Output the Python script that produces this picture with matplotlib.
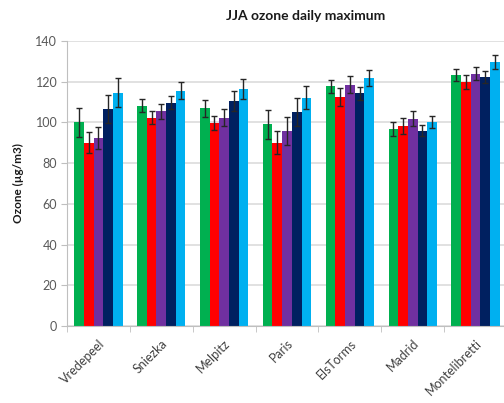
import matplotlib.pyplot as plt
import numpy as np

plt.rcParams['font.family'] = ['Lato', 'DejaVu Sans']

sites = ['Vredepeel', 'Sniezka', 'Melpitz', 'Paris', 'ElsTorms', 'Madrid', 'Montelibretti']

# five series per site, with +/- error
s1 = [100.0, 108.1, 107.0, 99.1, 117.8, 96.6, 123.3]
s1_err = [7.0, 3.2, 4.2, 7.0, 3.2, 3.5, 2.8]
s2 = [90.1, 102.4, 99.8, 90.1, 112.5, 98.3, 120.0]
s2_err = [5.0, 3.3, 3.3, 5.8, 4.6, 3.9, 3.5]
s3 = [92.5, 105.5, 102.4, 95.8, 118.6, 101.9, 124.0]
s3_err = [5.5, 3.7, 4.3, 6.7, 4.3, 3.7, 3.1]
s4 = [106.6, 109.7, 110.6, 105.2, 114.3, 96.0, 122.4]
s4_err = [6.7, 3.2, 4.9, 7.0, 3.1, 2.5, 3.0]
s5 = [114.6, 115.6, 116.3, 112.2, 121.9, 100.2, 129.6]
s5_err = [7.0, 4.2, 5.0, 5.7, 4.0, 3.0, 3.3]

series = [s1, s2, s3, s4, s5]
errors = [s1_err, s2_err, s3_err, s4_err, s5_err]
colors = ['#00b050', '#ff0000', '#7030a0', '#002060', '#00b0f0']

fig = plt.figure(figsize=(5.04, 4.03), dpi=100)
ax = fig.add_axes([67 / 504, 77 / 403, 440 / 504, 285 / 403])

x = np.arange(len(sites))
w = 1 / 6.5
for j, (vals, err, c) in enumerate(zip(series, errors, colors)):
    ax.bar(x + (j - 2) * w, vals, width=w, color=c, zorder=2,
           yerr=err, error_kw=dict(ecolor='#262626', elinewidth=1.0, capsize=2.2, capthick=1.0))

ax.set_xlim(-0.5, len(sites) - 0.5)
ax.set_ylim(0, 140)
ax.set_yticks(np.arange(0, 141, 20))
ax.grid(axis='y', color='#d9d9d9', linewidth=1.1, zorder=0)
ax.set_axisbelow(True)

# category labels at centres, tick marks at boundaries
ax.set_xticks(x)
ax.set_xticklabels(sites, rotation=45, ha='right', rotation_mode='anchor')
ax.set_xticks(np.arange(-0.5, len(sites)), minor=True)
ax.tick_params(axis='x', which='major', length=0, pad=8, labelsize=9, labelcolor='#404040')
ax.tick_params(axis='x', which='minor', length=4, color='#bfbfbf')
ax.tick_params(axis='y', length=4, color='#bfbfbf', labelsize=9, labelcolor='#595959', pad=3)

for side in ['top', 'right']:
    ax.spines[side].set_visible(False)
for side in ['left', 'bottom']:
    ax.spines[side].set_color('#bfbfbf')

ax.set_ylabel('Ozone (µg/m3)', fontsize=8.5, fontweight='bold', labelpad=8, color='#1a1a1a')
fig.text(306 / 504, 1 - 16 / 403, 'JJA ozone daily maximum', ha='center', va='center',
         fontsize=10, fontweight='bold', color='#1a1a1a')

fig.savefig('out.png', dpi=100)
